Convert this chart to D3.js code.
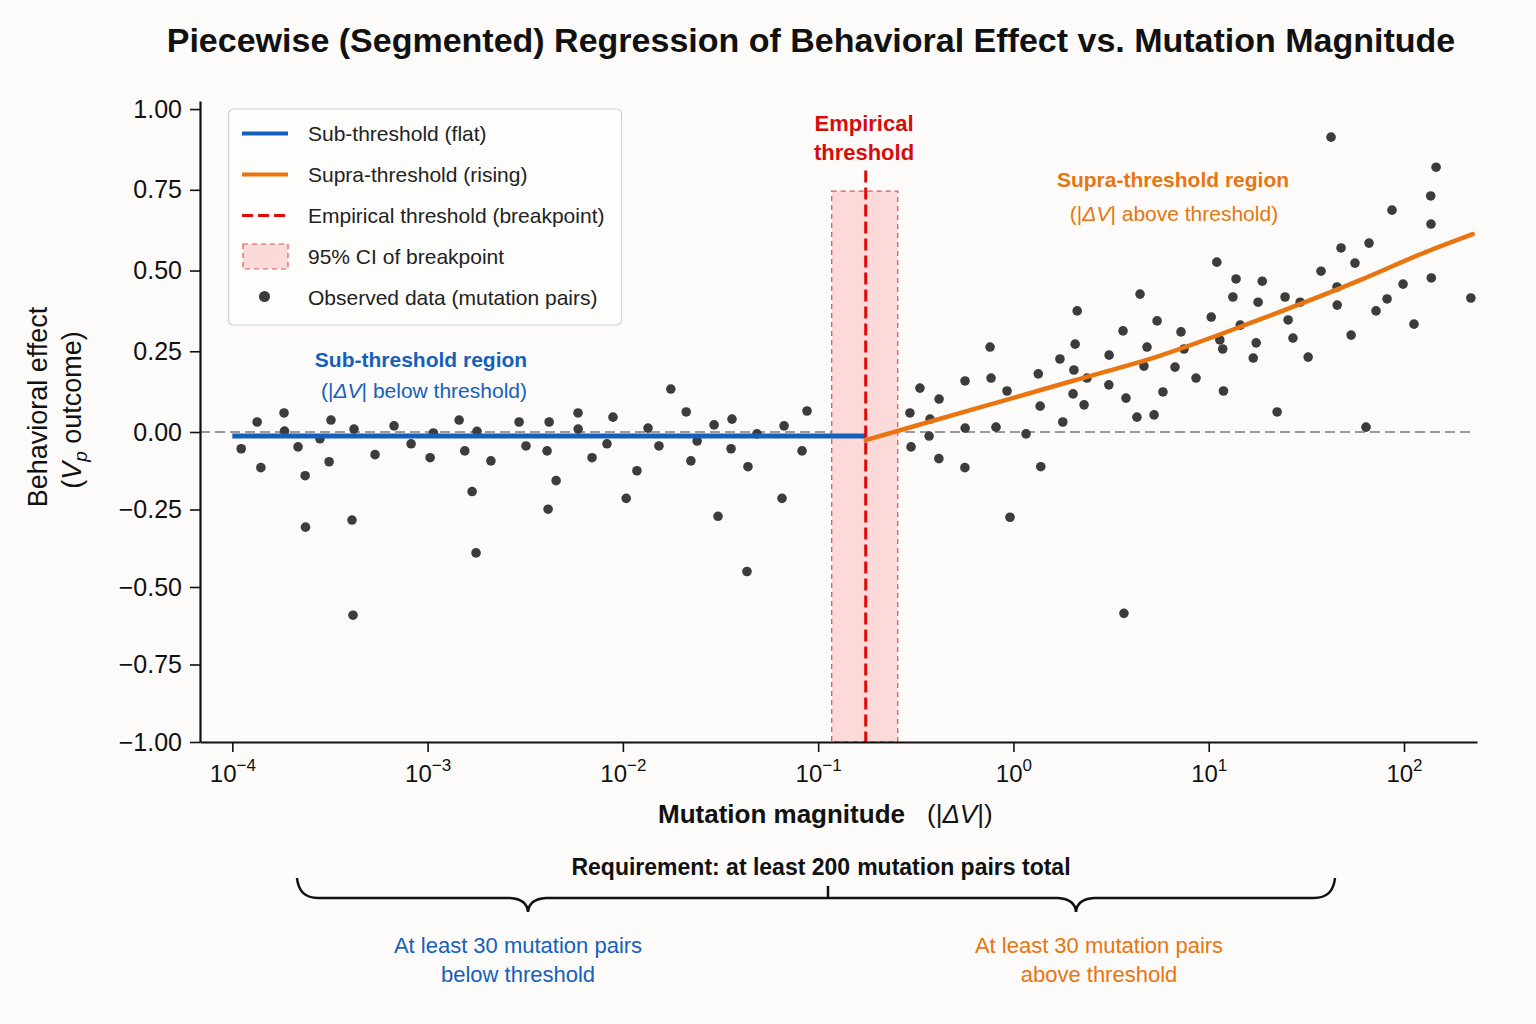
<!DOCTYPE html>
<html lang="en">
<head>
<meta charset="utf-8">
<title>Piecewise (Segmented) Regression</title>
<script src="https://cdnjs.cloudflare.com/ajax/libs/d3/7.8.5/d3.min.js"></script>
<style>
    body { margin: 0; background: #fcfbf9; }
    svg { display: block; font-family: "Liberation Sans", Arial, sans-serif; }
    .axis .domain { stroke: #111; stroke-width: 2.2px; }
    .axis .tick line { stroke: #111; stroke-width: 1.6px; }
    .axis .tick text { fill: #111; }
</style>
</head>
<body>
<svg id="chart"></svg>
<script>
    const width = 1536;
    const height = 1024;

    // observed mutation pairs, below the breakpoint
    const obsSubX = [1.11e-4, 1.34e-4, 1.40e-4, 1.84e-4, 1.85e-4, 2.17e-4, 2.36e-4, 2.37e-4, 2.81e-4, 3.13e-4,
        3.20e-4, 4.10e-4, 4.15e-4, 4.20e-4, 5.38e-4, 6.73e-4, 8.23e-4, 1.03e-3, 1.07e-3, 1.45e-3,
        1.55e-3, 1.69e-3, 1.77e-3, 1.79e-3, 2.11e-3, 2.94e-3, 3.19e-3, 4.09e-3, 4.14e-3, 4.19e-3,
        4.55e-3, 5.89e-3, 5.90e-3, 6.95e-3, 8.29e-3, 8.90e-3, 0.0104, 0.0118, 0.01345, 0.0153,
        0.0176, 0.0211, 0.0223, 0.0240, 0.0293, 0.0307, 0.0358, 0.0362, 0.0432, 0.0437,
        0.0486, 0.0653, 0.0669, 0.0827, 0.0877];
    const obsSubY = [-0.054, 0.031, -0.115, 0.059, 0.003, -0.048, -0.141, -0.307, -0.022, -0.096,
        0.037, -0.284, -0.591, 0.009, -0.073, 0.019, -0.038, -0.083, -0.003, 0.037,
        -0.061, -0.192, -0.390, 0.002, -0.093, 0.031, -0.045, -0.061, -0.249, 0.031,
        -0.157, 0.059, 0.009, -0.083, -0.038, 0.046, -0.214, -0.125, 0.012, -0.045,
        0.133, 0.062, -0.093, -0.029, 0.022, -0.272, -0.054, 0.040, -0.450, -0.112,
        -0.006, -0.214, 0.019, -0.061, 0.065];

    // observed mutation pairs, above the breakpoint
    const obsSupX = [0.295, 0.299, 0.332, 0.374, 0.370, 0.416, 0.415, 0.565, 0.566, 0.564,
        0.759, 0.768, 0.814, 0.927, 0.960, 1.16, 1.34, 1.37, 1.38, 1.73,
        1.79, 2.02, 2.04, 2.07, 2.12, 2.30, 2.38, 3.09, 3.08, 3.64,
        3.68, 3.77, 4.29, 4.45, 4.66, 4.83, 5.25, 5.44, 5.83, 6.72,
        7.21, 7.47, 8.61, 10.3, 11.0, 11.8, 11.9, 13.3, 13.8, 14.5,
        16.9, 17.5, 17.9, 18.8, 22.4, 24.6, 25.5, 27.0, 32.3, 37.6,
        42.3, 45.4, 45.5, 47.6, 53.6, 56.1, 63.9, 66.2, 71.9, 81.9,
        86.8, 98.9, 112.5, 137, 137.5, 138, 146, 220, 29.4, 11.4];
    const obsSupY = [0.059, -0.048, 0.136, 0.040, -0.013, 0.102, -0.086, 0.158, 0.012, -0.115,
        0.263, 0.167, 0.015, 0.127, -0.275, -0.006, 0.180, 0.080, -0.112, 0.226,
        0.031, 0.118, 0.192, 0.272, 0.375, 0.084, 0.167, 0.238, 0.146, 0.313,
        -0.585, 0.105, 0.046, 0.427, 0.204, 0.263, 0.053, 0.344, 0.124, 0.201,
        0.310, 0.257, 0.167, 0.356, 0.526, 0.257, 0.127, 0.418, 0.474, 0.331,
        0.229, 0.276, 0.402, 0.467, 0.062, 0.418, 0.347, 0.291, 0.232, 0.498,
        0.913, 0.449, 0.393, 0.570, 0.300, 0.523, 0.015, 0.585, 0.375, 0.412,
        0.687, 0.458, 0.334, 0.731, 0.644, 0.477, 0.820, 0.415, 0.402, 0.285];

    // fitted segments
    const flatFitX = [1e-4, 0.1752];
    const flatFitY = [-0.013, -0.013];
    const riseFitX = [0.1752, 0.62, 2.0, 5.6, 18, 60, 130, 225];
    const riseFitY = [-0.026, 0.07, 0.158, 0.236, 0.347, 0.471, 0.558, 0.613];

    // breakpoint and its confidence interval
    const breakpoint = 0.1752;
    const breakpointTop = 0.81;
    const ciBounds = [0.1173, 0.2555];
    const ciTop = 0.746;

    const xTicks = [1e-4, 1e-3, 1e-2, 1e-1, 1e0, 1e1, 1e2];
    const xTickExp = ["\u22124", "\u22123", "\u22122", "\u22121", "0", "1", "2"];
    const yTicks = [-1, -0.75, -0.5, -0.25, 0, 0.25, 0.5, 0.75, 1];

    const legendLabels = ["Sub-threshold (flat)", "Supra-threshold (rising)", "Empirical threshold (breakpoint)",
        "95% CI of breakpoint", "Observed data (mutation pairs)"];

    const blue = "#1660bd";
    const orange = "#e8750f";
    const red = "#dc0a0a";

    const svg = d3.select("#chart").attr("width", width).attr("height", height);
    svg.append("rect").attr("width", width).attr("height", height).attr("fill", "#fcfbf9");

    const x = d3.scaleLog().domain([6.83e-5, 236.5]).range([200, 1477]);
    const y = d3.scaleLinear().domain([-1, 0, 1.025]).range([742, 432, 101]);

    // zero reference line
    svg.append("line")
        .attr("x1", x(6.83e-5)).attr("x2", x(218))
        .attr("y1", y(0)).attr("y2", y(0))
        .attr("stroke", "#9a9a9a").attr("stroke-width", 2).attr("stroke-dasharray", "10,5");

    // CI band
    svg.append("rect")
        .attr("x", x(ciBounds[0])).attr("width", x(ciBounds[1]) - x(ciBounds[0]))
        .attr("y", y(ciTop)).attr("height", y(-1) - y(ciTop))
        .attr("fill", "#fcdada")
        .attr("stroke", "#e25555").attr("stroke-width", 1.3).attr("stroke-dasharray", "5,4");

    // points
    const obsX = obsSubX.concat(obsSupX);
    const obsY = obsSubY.concat(obsSupY);
    svg.append("g").selectAll("circle")
        .data(d3.range(obsX.length))
        .enter().append("circle")
        .attr("cx", i => x(obsX[i]))
        .attr("cy", i => y(obsY[i]))
        .attr("r", 4.8)
        .attr("fill", "#3c3c3c");

    // fit lines
    const flatLine = d3.line().x(i => x(flatFitX[i])).y(i => y(flatFitY[i]));
    svg.append("path")
        .attr("d", flatLine(d3.range(flatFitX.length)))
        .attr("fill", "none").attr("stroke", blue).attr("stroke-width", 5);

    const riseLine = d3.line().x(i => x(riseFitX[i])).y(i => y(riseFitY[i])).curve(d3.curveMonotoneX);
    svg.append("path")
        .attr("d", riseLine(d3.range(riseFitX.length)))
        .attr("fill", "none").attr("stroke", orange).attr("stroke-width", 4.5)
        .attr("stroke-linecap", "round");

    // breakpoint
    svg.append("line")
        .attr("x1", x(breakpoint)).attr("x2", x(breakpoint))
        .attr("y1", y(breakpointTop)).attr("y2", y(-1))
        .attr("stroke", red).attr("stroke-width", 3).attr("stroke-dasharray", "12,5");

    // axes
    const yAxis = svg.append("g").attr("class", "axis")
        .attr("transform", "translate(200,0)")
        .call(d3.axisLeft(y).tickValues(yTicks).tickFormat(d3.format(".2f"))
            .tickSize(10).tickSizeOuter(0).tickPadding(8));
    yAxis.selectAll(".tick text")
        .attr("font-size", 25).attr("font-family", "Liberation Sans, Arial, sans-serif");

    const xAxis = svg.append("g").attr("class", "axis")
        .attr("transform", "translate(0,742)")
        .call(d3.axisBottom(x).tickValues(xTicks).tickFormat("").tickSize(10).tickSizeOuter(0));
    xAxis.selectAll(".tick").each(function (d, i) {
        const t = d3.select(this).append("text")
            .attr("y", 40).attr("text-anchor", "middle")
            .attr("fill", "#111").attr("font-size", 24)
            .attr("font-family", "Liberation Sans, Arial, sans-serif");
        t.append("tspan").text("10");
        t.append("tspan").attr("dy", -11).attr("font-size", 17).text(xTickExp[i]);
    });

    // title
    svg.append("text")
        .attr("x", 811).attr("y", 52).attr("text-anchor", "middle")
        .attr("font-size", 34).attr("font-weight", "bold").attr("fill", "#111")
        .text("Piecewise (Segmented) Regression of Behavioral Effect vs. Mutation Magnitude");

    // y label
    svg.append("text")
        .attr("transform", "translate(47,407) rotate(-90)")
        .attr("text-anchor", "middle").attr("font-size", 27).attr("fill", "#111")
        .text("Behavioral effect");
    const yl2 = svg.append("text")
        .attr("transform", "translate(81,410) rotate(-90)")
        .attr("text-anchor", "middle").attr("font-size", 27).attr("fill", "#111");
    yl2.append("tspan").text("(");
    yl2.append("tspan").attr("font-style", "italic").text("V");
    yl2.append("tspan").attr("font-style", "italic").attr("font-size", 19).attr("dy", 6).text("p");
    yl2.append("tspan").attr("dy", -6).text(" outcome)");

    // x label
    const xl = svg.append("text")
        .attr("x", 658).attr("y", 823).attr("font-size", 26).attr("fill", "#111");
    xl.append("tspan").attr("font-weight", "bold").text("Mutation magnitude");
    xl.append("tspan").attr("dx", 22).text("(|");
    xl.append("tspan").attr("font-style", "italic").text("\u0394V");
    xl.append("tspan").text("|)");

    // legend
    const legend = svg.append("g");
    legend.append("rect")
        .attr("x", 228.5).attr("y", 109).attr("width", 393).attr("height", 216).attr("rx", 5)
        .attr("fill", "#fdfdfc").attr("stroke", "#d2d2d2").attr("stroke-width", 1.2);
    legendLabels.forEach((label, i) => {
        const cy = 133.5 + i * 41;
        const row = legend.append("g");
        if (i === 0 || i === 1) {
            row.append("line").attr("x1", 242).attr("x2", 288).attr("y1", cy).attr("y2", cy)
                .attr("stroke", i === 0 ? blue : orange).attr("stroke-width", 4);
        } else if (i === 2) {
            row.append("line").attr("x1", 242).attr("x2", 288).attr("y1", cy).attr("y2", cy)
                .attr("stroke", red).attr("stroke-width", 3).attr("stroke-dasharray", "11,5");
        } else if (i === 3) {
            row.append("rect").attr("x", 243).attr("y", cy - 12.5).attr("width", 45).attr("height", 25)
                .attr("fill", "#fcdada").attr("stroke", "#e25555")
                .attr("stroke-width", 1.2).attr("stroke-dasharray", "5,4");
        } else {
            row.append("circle").attr("cx", 264.5).attr("cy", cy - 1).attr("r", 5.5).attr("fill", "#3c3c3c");
        }
        row.append("text").attr("x", 308).attr("y", cy + 7.5)
            .attr("font-size", 21).attr("fill", "#222").text(label);
    });

    // region annotations
    function deltaText(cx, cy, before, after, color) {
        const t = svg.append("text").attr("x", cx).attr("y", cy).attr("text-anchor", "middle")
            .attr("font-size", 21).attr("fill", color);
        t.append("tspan").text(before);
        t.append("tspan").attr("font-style", "italic").text("\u0394V");
        t.append("tspan").text(after);
    }

    svg.append("text").attr("x", 421).attr("y", 367).attr("text-anchor", "middle")
        .attr("font-size", 21).attr("font-weight", "bold").attr("fill", blue)
        .text("Sub-threshold region");
    deltaText(424, 398, "(|", "| below threshold)", blue);

    svg.append("text").attr("x", 1173).attr("y", 187).attr("text-anchor", "middle")
        .attr("font-size", 21).attr("font-weight", "bold").attr("fill", orange)
        .text("Supra-threshold region");
    deltaText(1174, 221, "(|", "| above threshold)", orange);

    svg.append("text").attr("x", 864).attr("y", 131).attr("text-anchor", "middle")
        .attr("font-size", 22).attr("font-weight", "bold").attr("fill", "#d40d0d")
        .text("Empirical");
    svg.append("text").attr("x", 864).attr("y", 160).attr("text-anchor", "middle")
        .attr("font-size", 22).attr("font-weight", "bold").attr("fill", "#d40d0d")
        .text("threshold");

    // sample size requirement with brace
    const req = svg.append("text").attr("x", 821).attr("y", 875).attr("text-anchor", "middle")
        .attr("font-size", 23).attr("font-weight", "bold").attr("fill", "#111");
    req.append("tspan").text("Requirement: at least 200");
    req.append("tspan").attr("dx", 7).text("mutation pairs total");

    const brace = d3.path();
    brace.moveTo(297, 878);
    brace.quadraticCurveTo(299, 898, 318, 898);
    brace.lineTo(510, 898);
    brace.quadraticCurveTo(527, 899, 528, 912);
    brace.quadraticCurveTo(529, 899, 546, 898);
    brace.lineTo(1058, 898);
    brace.quadraticCurveTo(1075, 899, 1076, 912);
    brace.quadraticCurveTo(1077, 899, 1094, 898);
    brace.lineTo(1314, 898);
    brace.quadraticCurveTo(1333, 898, 1335, 878);
    brace.moveTo(828, 898);
    brace.lineTo(828, 886);
    svg.append("path").attr("d", brace.toString())
        .attr("fill", "none").attr("stroke", "#111").attr("stroke-width", 2.5);

    [["At least 30 mutation pairs", "below threshold", 518, blue],
     ["At least 30 mutation pairs", "above threshold", 1099, orange]].forEach(([l1, l2, cx, color]) => {
        svg.append("text").attr("x", cx).attr("y", 953).attr("text-anchor", "middle")
            .attr("font-size", 22).attr("fill", color).text(l1);
        svg.append("text").attr("x", cx).attr("y", 982).attr("text-anchor", "middle")
            .attr("font-size", 22).attr("fill", color).text(l2);
    });
</script>
</body>
</html>
